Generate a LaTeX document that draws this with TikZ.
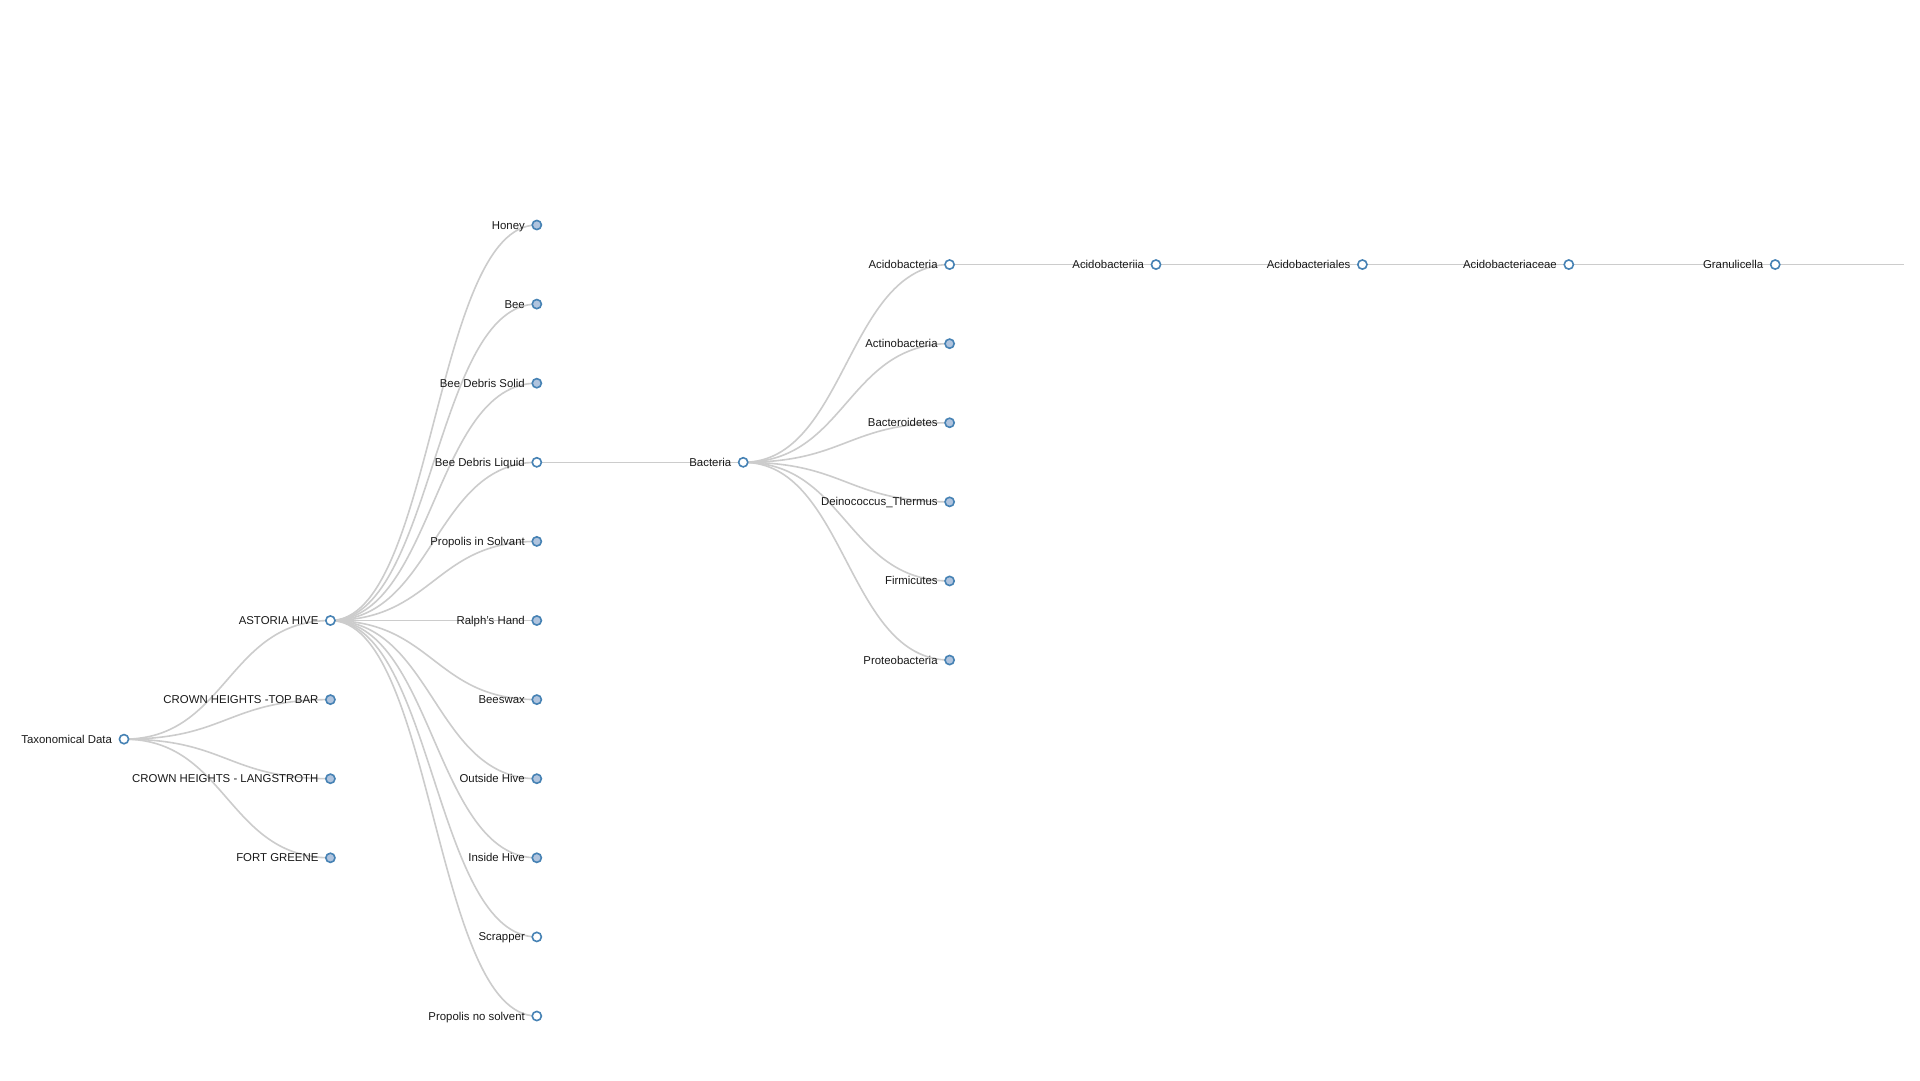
\documentclass[tikz,border=0pt]{standalone}
\usepackage{fontspec}
\setmainfont{Liberation Sans}
\usetikzlibrary{calc,backgrounds}
\definecolor{steel}{HTML}{4682B4}
\definecolor{lsteel}{HTML}{B0C4DE}
\definecolor{linkc}{HTML}{CCCCCC}
\tikzset{
  dot/.style={circle,draw=steel,line width=1.6pt,minimum size=9.2pt,inner sep=0pt,outer sep=0pt},
  leaf/.style={dot,fill=lsteel},
  open/.style={dot,fill=white},
  lbl/.style={anchor=base east,inner sep=0pt,outer sep=0pt,font=\fontsize{11.4}{13}\selectfont,text=black!90},
  link/.style={draw=linkc,line width=1.6pt},
}
\newcommand\lnk[2]{\draw[link] let \p1=(#1.center), \p2=(#2.center) in (\p1) .. controls ({0.5*\x1+0.5*\x2},\y1) and ({0.5*\x1+0.5*\x2},\y2) .. (\p2);}
\newcommand\nd[5]{\node[#2] (#1) at (#3,#4) {};
  \node[lbl] (#1-l) at ([xshift=-12pt,yshift=-4pt]#1.center) {#5};}
\begin{document}
\begin{tikzpicture}[x=1pt,y=-1pt]
\useasboundingbox (0,0) rectangle (1920,1080);
% level 0
\nd{root}{open}{124}{739.15}{Taxonomical Data}
% level 1
\nd{astoria}{open}{330.4}{620.5}{ASTORIA HIVE}
\nd{chtop}{leaf}{330.4}{699.6}{CROWN HEIGHTS -TOP BAR}
\nd{chlang}{leaf}{330.4}{778.7}{CROWN HEIGHTS - LANGSTROTH}
\nd{fort}{leaf}{330.4}{857.8}{FORT GREENE}
% level 2
\nd{honey}{leaf}{536.8}{225}{Honey}
\nd{bee}{leaf}{536.8}{304.1}{Bee}
\nd{bds}{leaf}{536.8}{383.2}{Bee Debris Solid}
\nd{bdl}{open}{536.8}{462.3}{Bee Debris Liquid}
\nd{pis}{leaf}{536.8}{541.4}{Propolis in Solvant}
\nd{ralph}{leaf}{536.8}{620.5}{Ralph's Hand}
\nd{wax}{leaf}{536.8}{699.6}{Beeswax}
\nd{outh}{leaf}{536.8}{778.7}{Outside Hive}
\nd{inh}{leaf}{536.8}{857.8}{Inside Hive}
\nd{scrap}{open}{536.8}{936.9}{Scrapper}
\nd{pns}{open}{536.8}{1016}{Propolis no solvent}
% level 3
\nd{bact}{open}{743.2}{462.3}{Bacteria}
% level 4
\nd{acido}{open}{949.6}{264.55}{Acidobacteria}
\nd{actino}{leaf}{949.6}{343.65}{Actinobacteria}
\nd{bactero}{leaf}{949.6}{422.75}{Bacteroidetes}
\nd{deino}{leaf}{949.6}{501.85}{Deinococcus\_Thermus}
\nd{firmi}{leaf}{949.6}{580.95}{Firmicutes}
\nd{proteo}{leaf}{949.6}{660.05}{Proteobacteria}
% chain
\nd{acidoi}{open}{1156}{264.55}{Acidobacteriia}
\nd{acidoales}{open}{1362.4}{264.55}{Acidobacteriales}
\nd{acidoceae}{open}{1568.8}{264.55}{Acidobacteriaceae}
\nd{granu}{open}{1775.2}{264.55}{Granulicella}
\coordinate (edge) at (1904,264.55);
\begin{pgfonlayer}{background}
\fill[white] (0,0) rectangle (1920,1080);
\foreach \c in {astoria,chtop,chlang,fort}{\lnk{root}{\c}}
\foreach \c in {honey,bee,bds,bdl,pis,ralph,wax,outh,inh,scrap,pns}{\lnk{astoria}{\c}}
\lnk{bdl}{bact}
\foreach \c in {acido,actino,bactero,deino,firmi,proteo}{\lnk{bact}{\c}}
\lnk{acido}{acidoi}
\lnk{acidoi}{acidoales}
\lnk{acidoales}{acidoceae}
\lnk{acidoceae}{granu}
\lnk{granu}{edge}
\end{pgfonlayer}
\end{tikzpicture}
\end{document}
